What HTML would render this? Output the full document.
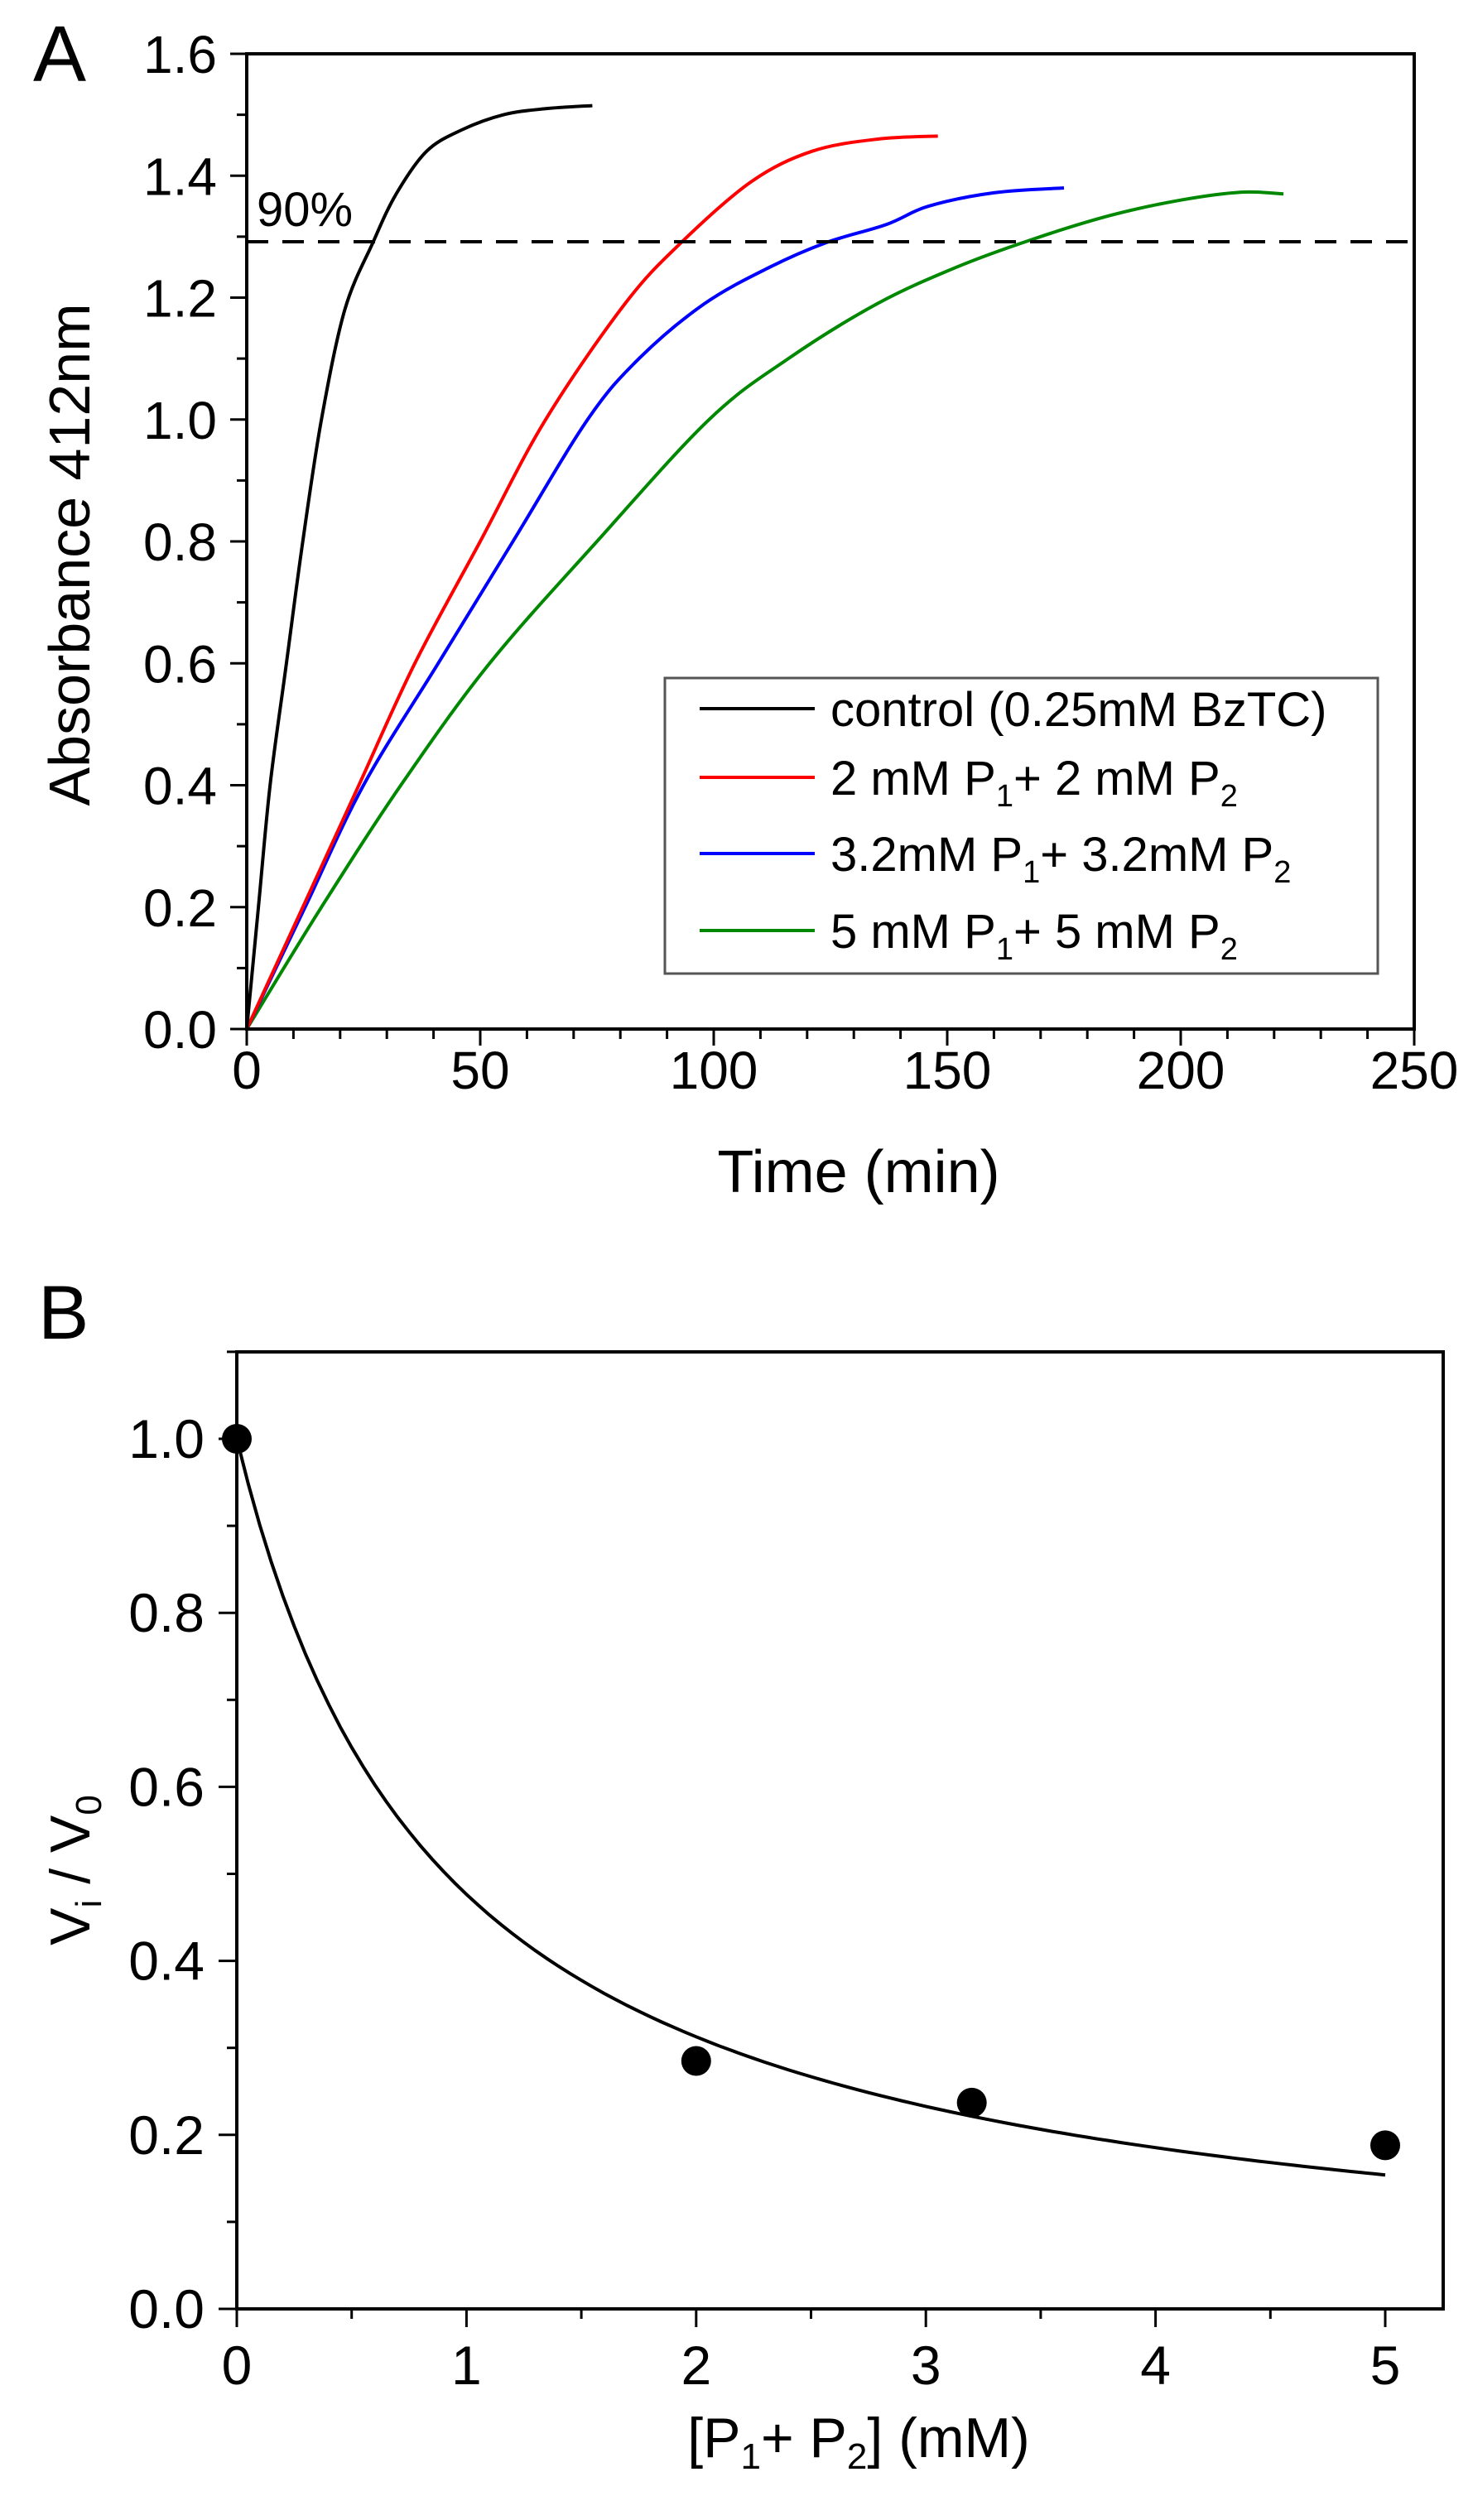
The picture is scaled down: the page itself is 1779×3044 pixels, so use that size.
<!DOCTYPE html>
<html><head><meta charset="utf-8"><style>
html,body{margin:0;padding:0;background:#fff;}
svg{display:block;font-family:"Liberation Sans",Arial,sans-serif;}
</style></head><body>
<svg id="s" width="1779" height="3044" viewBox="0 0 1779 3044" xmlns="http://www.w3.org/2000/svg">
<rect width="1779" height="3044" fill="#fff"/>
<text x="40" y="98" font-size="96">A</text>
<text x="46" y="1617" font-size="92">B</text>
<g id="ga"></g>
<g id="gb"></g>
<text x="310" y="273" font-size="58">90%</text>
<line x1="298" y1="292" x2="1708" y2="292" stroke="#000" stroke-width="4" stroke-dasharray="26,17"/>
<text transform="translate(108,670) rotate(-90)" text-anchor="middle" font-size="70">Absorbance 412nm</text>
<text x="1037" y="1440" text-anchor="middle" font-size="72">Time (min)</text>
<rect x="803" y="819" width="861" height="357" fill="#fff" stroke="#555" stroke-width="3"/>
<line x1="845" y1="856" x2="984" y2="856" stroke="#000" stroke-width="4"/>
<line x1="845" y1="939" x2="984" y2="939" stroke="#f00" stroke-width="4"/>
<line x1="845" y1="1031" x2="984" y2="1031" stroke="#00f" stroke-width="4"/>
<line x1="845" y1="1124" x2="984" y2="1124" stroke="#080" stroke-width="4"/>
<g font-size="58">
<text x="1003" y="877">control (0.25mM BzTC)</text>
<text x="1003" y="960">2 mM P<tspan font-size="38" dy="14">1</tspan><tspan dy="-14">+ 2 mM P</tspan><tspan font-size="38" dy="14">2</tspan></text>
<text x="1003" y="1052">3.2mM P<tspan font-size="38" dy="14">1</tspan><tspan dy="-14">+ 3.2mM P</tspan><tspan font-size="38" dy="14">2</tspan></text>
<text x="1003" y="1145">5 mM P<tspan font-size="38" dy="14">1</tspan><tspan dy="-14">+ 5 mM P</tspan><tspan font-size="38" dy="14">2</tspan></text>
</g>
<text transform="translate(108,2259) rotate(-90)" text-anchor="middle" font-size="68">V<tspan font-size="44" dy="14">i</tspan><tspan dy="-14"> / V</tspan><tspan font-size="44" dy="14">0</tspan></text>
<text x="1037" y="2968" text-anchor="middle" font-size="68">[P<tspan font-size="44" dy="14">1</tspan><tspan dy="-14">+ P</tspan><tspan font-size="44" dy="14">2</tspan><tspan dy="-14">] (mM)</tspan></text>
</svg>
<script>
var NS="http://www.w3.org/2000/svg";
function el(p,n,a){var e=document.createElementNS(NS,n);for(var k in a)e.setAttribute(k,a[k]);p.appendChild(e);return e;}
function smooth(P){var d='M'+P[0][0].toFixed(1)+','+P[0][1].toFixed(1);
 for(var i=0;i<P.length-1;i++){var p0=P[i>0?i-1:i],p1=P[i],p2=P[i+1],p3=P[i+2<P.length?i+2:i+1];
  var c1=[p1[0]+(p2[0]-p0[0])/6,p1[1]+(p2[1]-p0[1])/6],c2=[p2[0]-(p3[0]-p1[0])/6,p2[1]-(p3[1]-p1[1])/6];
  d+=' C'+c1[0].toFixed(1)+','+c1[1].toFixed(1)+' '+c2[0].toFixed(1)+','+c2[1].toFixed(1)+' '+p2[0].toFixed(1)+','+p2[1].toFixed(1);}
 return d;}
var ga=document.getElementById('ga');
var AX0=298,AX1=1708,AY0=1243,AY1=65;
function ax(t){return AX0+t*(AX1-AX0)/250;}
function ay(v){return AY0-v*(AY0-AY1)/1.6;}
for(var t=0;t<=250;t+=10){var maj=t%50==0;el(ga,'line',{x1:ax(t),x2:ax(t),y1:AY0,y2:AY0+(maj?20:12),stroke:'#000','stroke-width':3});
 if(maj){var tx=el(ga,'text',{x:ax(t),y:1315,'text-anchor':'middle','font-size':64});tx.textContent=t;}}
for(var i=0;i<=16;i++){var v=i/10,maj=i%2==0;el(ga,'line',{x1:AX0,x2:AX0-(maj?20:12),y1:ay(v),y2:ay(v),stroke:'#000','stroke-width':3});
 if(maj){var tx=el(ga,'text',{x:262,y:ay(v)+23,'text-anchor':'end','font-size':64});tx.textContent=v.toFixed(1);}}
var series=[
['#080',[[0,0],[16,0.2],[33,0.4],[52,0.6],[75,0.8],[99,1.0],[116,1.1],[135,1.19],[152,1.25],[168,1.295],[185,1.335],[200,1.36],[213,1.373],[222,1.37]]],
['#00f',[[0,0],[12.5,0.2],[25,0.4],[41,0.6],[57,0.8],[73,1.0],[84,1.1],[98,1.19],[112,1.25],[124,1.29],[137,1.32],[146,1.35],[160,1.372],[175,1.38]]],
['#f00',[[0,0],[12,0.2],[24,0.4],[36,0.6],[50,0.8],[64,1.0],[81,1.19],[93,1.29],[108,1.39],[121,1.44],[135,1.46],[148,1.465]]],
['#000',[[0,0],[2.5,0.2],[5,0.4],[8.5,0.6],[12,0.8],[16,1.0],[21,1.18],[27,1.29],[32,1.37],[38.5,1.44],[46,1.475],[55,1.5],[64,1.51],[74,1.515]]]];
series.forEach(function(s){var P=s[1].map(function(p){return [ax(p[0]),ay(p[1])];});
 el(ga,'path',{d:smooth(P),fill:'none',stroke:s[0],'stroke-width':4,'stroke-linejoin':'round'});});
el(ga,'rect',{x:AX0,y:AY1,width:AX1-AX0,height:AY0-AY1,fill:'none',stroke:'#000','stroke-width':4});
var gb=document.getElementById('gb');
var BX0=286,BX1=1743,BY0=2789,BY1=1633;
function bx(x){return BX0+x*277.4;}
function by(v){return BY0-v*1051;}
for(var i=0;i<=10;i++){var x=i/2,maj=i%2==0;el(gb,'line',{x1:bx(x),x2:bx(x),y1:BY0,y2:BY0+(maj?22:12),stroke:'#000','stroke-width':3});
 if(maj){var tx=el(gb,'text',{x:bx(x),y:2880,'text-anchor':'middle','font-size':66});tx.textContent=x;}}
for(var i=0;i<=11;i++){var v=i/10,maj=i%2==0;el(gb,'line',{x1:BX0,x2:BX0-(maj?22:12),y1:by(v),y2:by(v),stroke:'#000','stroke-width':3});
 if(maj&&i<=10){var tx=el(gb,'text',{x:247,y:by(v)+23,'text-anchor':'end','font-size':66});tx.textContent=v.toFixed(1);}}
var pts=[];for(var x=0;x<=5.0001;x+=0.05){pts.push(bx(x).toFixed(1)+','+by(1/(1+x/0.91)).toFixed(1));}
el(gb,'polyline',{points:pts.join(' '),fill:'none',stroke:'#000','stroke-width':4});
[[0,1.0],[2,0.285],[3.2,0.237],[5,0.188]].forEach(function(p){el(gb,'circle',{cx:bx(p[0]),cy:by(p[1]),r:18,fill:'#000'});});
el(gb,'rect',{x:BX0,y:BY1,width:BX1-BX0,height:BY0-BY1,fill:'none',stroke:'#000','stroke-width':4});
</script>
</body></html>
